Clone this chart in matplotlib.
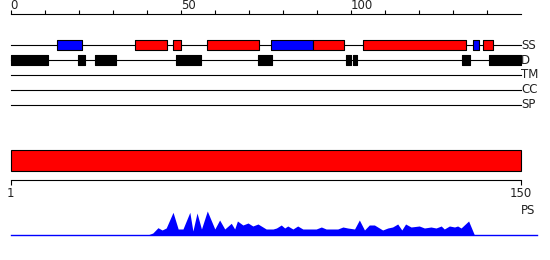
import matplotlib.pyplot as plt

seq_len = 150
tracks = ['SS', 'D', 'TM', 'CC', 'SP']

# secondary structure: H = helix (red), E = strand (blue)
ss_start = [13.7, 36.6, 47.8, 57.8, 76.6, 88.8, 103.7, 135.8, 138.7]
ss_end = [20.9, 45.9, 50.0, 72.9, 88.8, 97.9, 133.8, 137.8, 141.9]
ss_type = ['E', 'H', 'H', 'H', 'E', 'H', 'H', 'E', 'H']

# disordered regions
dis_start = [0, 19.8, 24.8, 48.6, 72.7, 98.6, 100.5, 132.7, 140.7]
dis_end = [11.0, 21.9, 31.0, 55.9, 76.8, 100.1, 101.8, 135.0, 150]

# PS domain
ps_start = 1
ps_end = 150

# profile below the domain bar
prof_pos = [41.0, 42.5, 44.0, 45.2, 46.4, 48.4, 49.9, 51.3, 53.3, 54.2, 55.4, 56.7,
            58.4, 60.6, 62.0, 63.5, 65.4, 66.4, 67.2, 68.8, 70.3, 71.7, 73.2, 75.6,
            77.6, 78.6, 80.0, 81.0, 81.9, 83.4, 84.8, 86.3, 90.2, 91.7, 93.1, 95.1,
            96.5, 98.0, 99.4, 101.4, 102.8, 104.3, 105.7, 107.2, 109.6, 111.1, 112.5,
            114.0, 115.2, 116.3, 117.9, 120.3, 121.8, 123.7, 125.2, 126.7, 127.6,
            129.1, 130.6, 131.5, 132.5, 134.7, 136.4]
prof_val = [0, 2, 7.3, 5, 7, 22.7, 6, 6, 22.7, 4, 22, 6,
            24, 6, 15, 6, 11.7, 6, 14, 10, 12, 9, 11, 6,
            6, 7, 10, 7, 9, 6, 9, 6, 6, 8, 6, 6,
            6, 8, 7, 6, 15, 5, 10, 10, 5, 7, 8,
            11, 5, 11, 8, 9, 7, 8, 7, 9, 6,
            9, 8, 9, 7, 14, 0]

plt.rcParams['font.family'] = 'DejaVu Sans'
txt = '#222222'

W, H = 550, 260
fig = plt.figure(figsize=(W / 100, H / 100), dpi=100)


def rect(x0, y0, x1, y1):
    return [x0 / W, 1 - y1 / H, (x1 - x0) / W, (y1 - y0) / H]


# feature tracks with ruler on top
ax1 = fig.add_axes(rect(10.7, 14.3, 521, 112))
ax1.set_xlim(0, seq_len)
ax1.set_ylim(4.467, -2.047)
for i, name in enumerate(tracks):
    ax1.plot([0, seq_len], [i, i], color='black', lw=0.8, zorder=1, clip_on=False)
    ax1.text(seq_len, i, name, ha='left', va='center', fontsize=8.5, color=txt)

ss_colors = ['red' if t == 'H' else 'blue' for t in ss_type]
ax1.broken_barh([(s, e - s) for s, e in zip(ss_start, ss_end)], (-0.36, 0.72),
                facecolors=ss_colors, edgecolor='black', lw=0.8, zorder=2, clip_on=False)
ax1.broken_barh([(s, e - s) for s, e in zip(dis_start, dis_end)], (1 - 0.36, 0.72),
                facecolors='black', edgecolor='black', lw=0.8, zorder=2, clip_on=False)

for side in ['left', 'right', 'bottom']:
    ax1.spines[side].set_visible(False)
ax1.spines['top'].set_linewidth(0.8)
ax1.set_yticks([])
ax1.xaxis.tick_top()
ticks = list(range(0, seq_len, 10))
ax1.set_xticks(ticks)
ax1.set_xticklabels([str(t) if t % 50 == 0 else '' for t in ticks])
ax1.tick_params(axis='x', direction='out', length=3.2, width=0.8, pad=0.5,
                labelsize=8.5, labelcolor=txt)
for lab in ax1.get_xticklabels():
    lab.set_ha('left')
    lab.set_va('baseline')

# domain bar with ruler below
ax2 = fig.add_axes(rect(10.7, 145, 521, 180.3))
ax2.set_xlim(ps_start, ps_end)
ax2.set_ylim(0, 1)
ax2.barh(0.565, ps_end - ps_start, left=ps_start, height=0.586,
         color='red', edgecolor='black', lw=0.8, clip_on=False)
for side in ['left', 'right', 'top']:
    ax2.spines[side].set_visible(False)
ax2.spines['bottom'].set_linewidth(0.8)
ax2.set_yticks([])
ax2.set_xticks([ps_start, ps_end])
ax2.tick_params(axis='x', direction='out', length=3.5, width=0.8, pad=1.5,
                labelsize=8.5, labelcolor=txt)

# profile
ax3 = fig.add_axes(rect(10.7, 200, 521, 235))
ax3.set_xlim(ps_start, ps_end)
ax3.set_ylim(0, 35)
ax3.axis('off')
ax3.fill_between(prof_pos, prof_val, color='blue', lw=0)
ax3.plot([ps_start, 154.6], [0, 0], color='blue', lw=1.0, clip_on=False)
ax3.text(ps_end, 24, 'PS', ha='left', va='center', fontsize=8.5, color=txt)

fig.savefig('out.png', dpi=100)
